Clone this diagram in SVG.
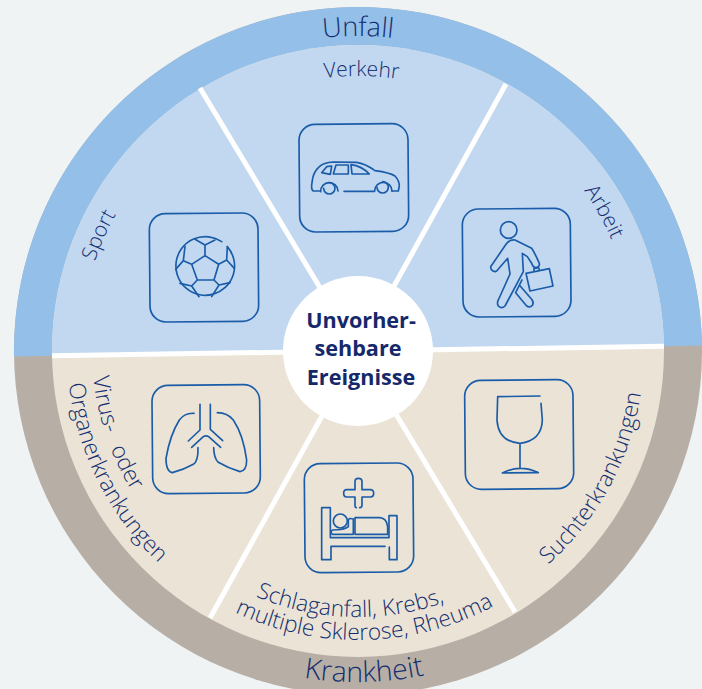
<svg xmlns="http://www.w3.org/2000/svg" xmlns:xlink="http://www.w3.org/1999/xlink" width="702" height="689" viewBox="0 0 702 689">
<style>
.lab{font-family:"Open Sans","Liberation Sans",sans-serif;font-weight:300;font-size:21px;fill:#142f70;text-anchor:middle}
.long{font-size:22.6px}
.big{font-size:27px}
.big2{font-size:28.4px}
.hub{font-family:"Open Sans","Liberation Sans",sans-serif;font-weight:700;font-size:21.6px;fill:#14286a;text-anchor:middle}
.ic{fill:none;stroke:#1a5ca8;stroke-width:5;stroke-linejoin:round;stroke-linecap:round}
.sp{stroke:#fff;stroke-width:5;fill:none}
</style>
<defs>
<path id="cw315" d="M358 666A315 315 0 1 1 358 36A315 315 0 1 1 358 666"/>
<path id="cw275" d="M358 626A275 275 0 1 1 358 76A275 275 0 1 1 358 626"/>
<path id="cw278" d="M358 629A278 278 0 1 1 358 73A278 278 0 1 1 358 629"/>
<path id="cw277" d="M358 628A277 277 0 1 1 358 74A277 277 0 1 1 358 628"/>
<path id="ccw286" d="M358 65A286 286 0 1 0 358 637A286 286 0 1 0 358 65"/>
<path id="ccw266" d="M358 85A266 266 0 1 0 358 617A266 266 0 1 0 358 85"/>
<path id="ccw291" d="M358 60A291 291 0 1 0 358 642A291 291 0 1 0 358 60"/>
<path id="ccw289" d="M358 62A289 289 0 1 0 358 640A289 289 0 1 0 358 62"/>
<path id="ccw331" d="M358 20A331 331 0 1 0 358 682A331 331 0 1 0 358 20"/>
</defs>
<rect width="702" height="689" fill="#eff3f4"/>
<g id="wheel">
<circle cx="358" cy="351" r="344" fill="#b7aea6"/>
<path d="M14 356.4A344 344 0 0 1 702 345.6Z" fill="#94bfe8"/>
<circle cx="358" cy="351" r="306" fill="#ebe4d6"/>
<path d="M52 355.8A306 306 0 0 1 664 346.2Z" fill="#c2d8f1"/>
</g>
<g id="connectors">
<path class="sp" d="M52 355.8L664 346.2"/>
<path class="sp" d="M200 88L358 351L506 84"/>
<path class="sp" d="M210 618L358 351L515 612"/>
</g>
<g id="hub">
<circle cx="358" cy="351" r="75" fill="#fff"/>
<text class="hub" x="361" y="328">Unvorher-</text>
<text class="hub" x="358" y="356">sehbare</text>
<text class="hub" x="361" y="385">Ereignisse</text>
</g>
<g id="unfall"><text class="lab big"><textPath href="#cw315" startOffset="50%">Unfall</textPath></text></g>
<g id="krankheit"><text class="lab big2"><textPath href="#ccw331" startOffset="50.3%">Krankheit</textPath></text></g>
<g id="verkehr">
<text class="lab"><textPath href="#cw275" startOffset="50.2%">Verkehr</textPath></text>
<g transform="translate(280 110) scale(.3333)">
<rect class="ic" x="58" y="42" width="327" height="323" rx="48" transform="rotate(-.5 221 203)"/>
<path class="ic" d="M120 243H100Q94 240 95 225L98 205Q102 185 118 170Q130 158 160 156L230 157Q255 160 285 182Q330 188 345 198Q358 212 358 228L355 243H336"/>
<path class="ic" d="M122 245A26 26 0 0 1 174 243M284 243A26 26 0 0 1 336 243M192 244H284"/>
<path class="ic" d="M148 218A17 17 0 1 1 131 235M308 215A17 17 0 1 1 291 232"/>
<path class="ic" d="M125 188L140 170L155 168L151 193ZM168 165H205V192H160ZM213 164Q245 168 268 192H216Z"/>
</g>
</g>
<g id="sport">
<text class="lab"><textPath href="#cw278" startOffset="31.7%">Sport</textPath></text>
<g transform="translate(140 200) scale(.3333)">
<rect class="ic" x="29" y="40" width="326" height="325" rx="48" transform="rotate(-.5 192 202)"/>
<path class="ic" d="M245 125A88 88 0 1 0 262 140"/>
<path class="ic" d="M195 167L236 193L222 240H172L155 193ZM195 167V135M165 118L195 135L225 120M155 193L130 182L135 140M130 182L107 208M236 193L260 180L262 140M260 180L283 205M172 240L155 258L120 250M155 258L177 290M222 240L237 255L270 248M237 255L215 290"/>
</g>
</g>
<g id="arbeit">
<text class="lab"><textPath href="#cw277" startOffset="66.8%">Arbeit</textPath></text>
<g transform="translate(450 200) scale(.3333)">
<rect class="ic" x="38" y="26" width="324" height="324" rx="48" transform="rotate(-.5 200 188)"/>
<circle class="ic" cx="176" cy="90" r="25"/>
<path class="ic" d="M135 215Q122 212 122 200L168 133Q178 118 195 120L245 145Q255 160 268 190Q270 200 258 203Q250 203 245 190L232 170L217 160L220 215L165 318Q155 328 145 318Q140 310 145 300L180 222L173 175L140 213Z"/>
<path class="ic" d="M216 240L197 278L230 318Q240 325 248 315Q252 305 245 298L208 255"/>
<path class="ic" d="M228 220L298 206L309 258L240 273ZM252 215V205L266 203L268 210"/>
</g>
</g>
<g id="virus">
<text class="lab long" word-spacing="10"><textPath href="#ccw266" startOffset="30.2%">Virus- oder</textPath></text>
<text class="lab long"><textPath href="#ccw291" startOffset="32.4%">Organerkrankungen</textPath></text>
<g transform="translate(140 375) scale(.3333)">
<rect class="ic" x="37" y="30" width="323" height="325" rx="48" transform="rotate(-.5 198 192)"/>
<path class="ic" d="M180 88V165L145 198M211 88V163L248 197M155 217L190 185Q198 180 206 185L242 217"/>
<path class="ic" d="M162 115Q135 113 118 135Q90 180 78 250Q78 290 97 293Q130 285 160 268Q175 258 174 218M232 113Q262 113 280 135Q310 180 320 255Q320 288 300 290Q265 280 235 262Q222 250 221 218"/>
</g>
</g>
<g id="schlaganfall">
<text class="lab long"><textPath href="#ccw266" startOffset="49.5%">Schlaganfall, Krebs,</textPath></text>
<text class="lab long"><textPath href="#ccw289" startOffset="50.4%">multiple Sklerose, Rheuma</textPath></text>
<g transform="translate(295 455) scale(.3333)">
<rect class="ic" x="29" y="25" width="326" height="327" rx="48" transform="rotate(-.5 192 188)"/>
<path class="ic" d="M184 158Q180 158 180 150V126H155Q146 126 146 115Q146 104 155 104H180V80Q180 70 190 70Q201 70 201 80V104H226Q236 104 236 115Q236 126 226 126H201V150Q201 158 194 158"/>
<path class="ic" d="M270 274H108V314H80V158H106V248H282V182H306V314H283V276"/>
<circle class="ic" cx="136" cy="198" r="21"/>
<path class="ic" d="M180 188H255Q275 190 278 215V238H180Z"/>
<path class="ic" d="M112 225Q105 232 112 238H175V192Q162 188 160 195V215Q150 225 112 225Z"/>
</g>
</g>
<g id="sucht">
<text class="lab long"><textPath href="#ccw286" startOffset="67.1%">Suchterkrankungen</textPath></text>
<g transform="translate(455 370) scale(.3333)">
<rect class="ic" x="30" y="30" width="325" height="327" rx="48" transform="rotate(-.5 192 193)"/>
<path class="ic" d="M255 78L128 80L126 150Q130 215 195 220Q260 212 262 150L258 100M195 220V295M142 309Q195 282 250 308Z"/>
</g>
</g>
</svg>
